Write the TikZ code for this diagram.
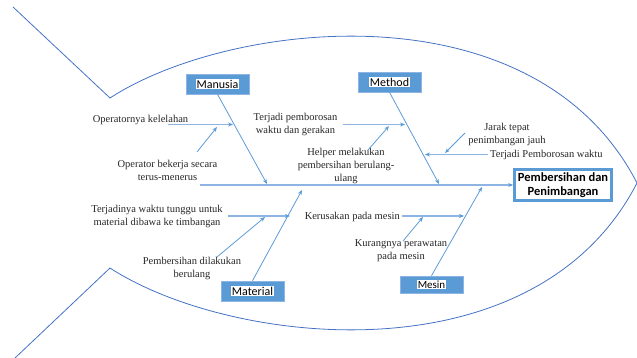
\documentclass[tikz,border=0pt]{standalone}
\usepackage{fontspec}
\setmainfont{Liberation Serif}
\newfontfamily\calib{Carlito}
\usetikzlibrary{arrows.meta,calc}
\definecolor{outline}{HTML}{4472C4}
\definecolor{bone}{HTML}{5B9BD5}
\definecolor{rib}{HTML}{8EB4E3}
\definecolor{txt}{HTML}{262626}
\setlength{\fboxsep}{1pt}
\begin{document}
\begin{tikzpicture}[x=1pt,y=-1pt,
  bonelink/.style={draw=bone,line width=0.8pt,-{Stealth[length=5pt,width=4pt]}},
  riblink/.style={draw=rib,line width=1.4pt,-{Stealth[length=5pt,width=4pt,color=bone]}},
  cause/.style={font=\fontsize{10.5}{13}\selectfont,text=txt,align=center,inner sep=0pt},
  catbox/.style={fill=bone,draw=rib,line width=0.6pt,minimum width=63pt,minimum height=20pt,
    inner sep=0pt,font=\calib\fontsize{12}{14}\selectfont},
  headbox/.style={draw=bone,line width=2.6pt,fill=white,minimum width=97pt,minimum height=31pt,
    align=center,inner sep=0pt,font=\calib\bfseries\fontsize{12.5}{14.5}\selectfont}
]
\useasboundingbox (0,0) rectangle (637,358);

% fish outline: tail and body
\draw[outline,line width=0.8pt]
  (13,7) -- (110,98) .. controls (230,20) and (535,-15) .. (637,183)
  .. controls (535,381) and (230,346) .. (110,268) -- (15,358);

% head and spine
\node[headbox] (head) at (563,185) {Pembersihan dan\\Penimbangan};
\coordinate (tail) at (200,185);
\draw[riblink] (tail) -- (head.west);

% category boxes
\node[catbox] (man) at (217.5,84) {\colorbox{white}{Manusia}};
\node[catbox] (met) at (389.5,82) {\colorbox{white}{Method}};
\node[catbox] (mat) at (252.5,291) {\colorbox{white}{Material}};
\node[catbox,minimum height=17pt,font=\calib\fontsize{11}{13}\selectfont] (mes) at (431.5,284.5) {\colorbox{white}{Mesin}};

% main bones
\coordinate (manE) at (267,184);
\coordinate (metE) at (439,184);
\coordinate (matE) at (302,190);
\coordinate (mesE) at (482,187);
\draw[bonelink] (man.south) -- (manE);
\draw[bonelink] (met.south) -- (metE);
\draw[bonelink] (mat.north) -- (matE);
\draw[bonelink] (mes.north) -- (mesE);

% causes: Manusia
\node[cause] (c1) at (140.5,120) {Operatornya kelelahan};
\node[cause] (c2) at (167.5,170) {Operator bekerja secara\\terus-menerus};
\coordinate (r1s) at (168,124.5);
\coordinate (r1e) at (233,124.5);
\draw[riblink] (r1s) -- (r1e);
\coordinate (a1s) at (197,152);
\coordinate (a1e) at (217,127);
\draw[bonelink] (a1s) -- (a1e);

% causes: Method
\node[cause] (c3) at (295.5,124) {Terjadi pemborosan\\waktu dan gerakan};
\node[cause] (c4) at (346,165.5) {Helper melakukan\\pembersihan berulang-\\ulang};
\coordinate (r2s) at (343,124.5);
\coordinate (r2e) at (405,124.5);
\draw[riblink] (r2s) -- (r2e);
\coordinate (a2s) at (368,150);
\coordinate (a2e) at (389,126);
\draw[bonelink] (a2s) -- (a2e);

\node[cause] (c5) at (507,134) {Jarak tepat\\penimbangan jauh};
\node[cause,anchor=west] (c6) at (490,155) {Terjadi Pemborosan waktu};
\coordinate (r3s) at (488,154.5);
\coordinate (r3e) at (425,154.5);
\draw[riblink] (r3s) -- (r3e);
\coordinate (a3s) at (465,133);
\coordinate (a3e) at (445,153);
\draw[bonelink] (a3s) -- (a3e);

% causes: Material
\node[cause] (c7) at (157,216.5) {Terjadinya waktu tunggu untuk\\material dibawa ke timbangan};
\node[cause] (c8) at (192,268.5) {Pembersihan dilakukan\\berulang};
\coordinate (r4s) at (228,216);
\coordinate (r4e) at (290,216);
\draw[riblink] (r4s) -- (r4e);
\coordinate (a4s) at (217,257);
\coordinate (a4e) at (265,217);
\draw[bonelink] (a4s) -- (a4e);

% causes: Mesin
\node[cause,anchor=east] (c9) at (400,216.5) {Kerusakan pada mesin};
\node[cause] (c10) at (401,250.5) {Kurangnya perawatan\\pada mesin};
\coordinate (r5s) at (402,216);
\coordinate (r5e) at (464,216);
\draw[riblink] (r5s) -- (r5e);
\coordinate (a5s) at (403,241);
\coordinate (a5e) at (423,217);
\draw[bonelink] (a5s) -- (a5e);
\end{tikzpicture}
\end{document}
